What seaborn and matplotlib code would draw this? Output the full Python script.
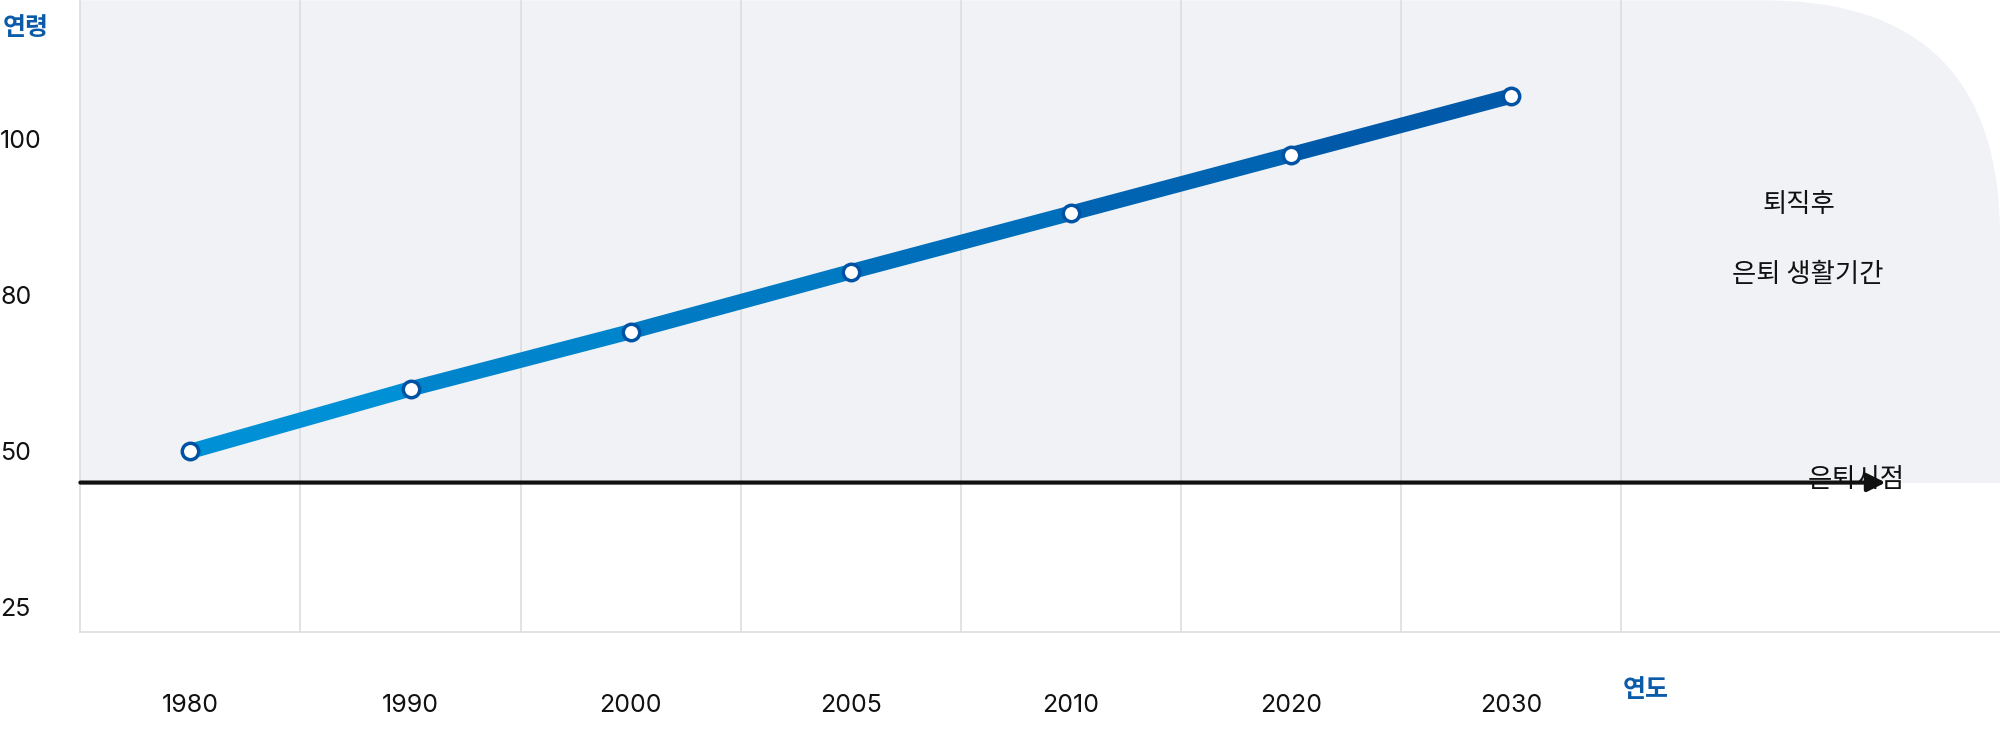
import numpy as np
import pandas as pd
import seaborn as sns
import matplotlib
matplotlib.use("Agg")
import matplotlib.pyplot as plt
from matplotlib.patches import FancyBboxPatch
from matplotlib.transforms import IdentityTransform

years = ["1980", "1990", "2000", "2005", "2010", "2020", "2030"]
ages = [50, 62, 73, 83, 90.5, 98, 105.5]
ytick_labels = [25, 50, 80, 100]
retire_age = 45

sns.set_theme(style="white")
plt.rcParams['font.family'] = ['Inter', 'Noto Sans CJK KR', 'DejaVu Sans']

def to_pos(v):
    t = np.array(ytick_labels, float)
    v = np.asarray(v, float)
    p = np.interp(v, t, np.arange(len(t)))
    hi = v > t[-1]
    p = np.where(hi, len(t) - 1 + (v - t[-1]) / (t[-1] - t[-2]), p)
    lo = v < t[1]
    p = np.where(lo, (v - t[0]) / (t[1] - t[0]), p)
    return p

S = 2000 / 1568
fig = plt.figure(figsize=(20, 7.44), dpi=100)
ax = fig.add_axes([63 / 1568, 88 / 583, 1 - 63 / 1568, 495 / 583])
ax.set_xlim(-0.5, 8.22)
ax.set_ylim(-0.155, 3.89)
ax.set_facecolor("white")

retire_pos = float(to_pos(retire_age))
rp_disp = 476 - 122.5 * retire_pos
x0, x1 = 63 * S, 1568 * S
y0, y1 = (583 - rp_disp) * S, 583 * S
r = 185 * S
patch = FancyBboxPatch((x0 - r, y0 - r), x1 - x0, y1 - y0, boxstyle=f"round,pad={r}",
                       transform=IdentityTransform(), facecolor="#F0F2F6", edgecolor="none", zorder=0.2)
ax.add_patch(patch)
patch.set_clip_path(ax.patch)
ax.axhspan(-0.155, retire_pos, color="white", zorder=0.5, lw=0)

for g in np.arange(0.5, 7.0, 1):
    ax.axvline(g, color="#DDDDDD", lw=1.2, zorder=1)

ax.annotate("", xy=(7.7, retire_pos), xytext=(-0.5, retire_pos),
            arrowprops=dict(arrowstyle="-|>,head_length=0.9,head_width=0.45", color="#111111", lw=3,
                            shrinkA=0, shrinkB=0),
            zorder=3)

df = pd.DataFrame({"x": np.arange(len(years)), "y": to_pos(ages)})
c0 = np.array(matplotlib.colors.to_rgb("#0096DA"))
c1 = np.array(matplotlib.colors.to_rgb("#0053A4"))
n = len(df) - 1
for i in range(n):
    col = c0 + (c1 - c0) * (i + 0.5) / n
    ax.plot(df.x[i:i + 2], df.y[i:i + 2], color=col, lw=11, solid_capstyle="round", zorder=4)
sns.scatterplot(data=df, x="x", y="y", s=140, color="white", edgecolor="#0053A4", linewidth=2.5, zorder=5, ax=ax)

ax.set_xticks(range(len(years)))
ax.set_xticklabels(years, fontsize=18, color="#111111")
ax.set_yticks(range(len(ytick_labels)))
ax.set_yticklabels([str(v) for v in ytick_labels], fontsize=18, color="#111111")
ax.tick_params(axis="x", length=0, pad=45)
ax.tick_params(axis="y", length=0, pad=0)
for lab in ax.get_yticklabels():
    lab.set_horizontalalignment("left")
    lab.set_x(-63 / 1505)
ax.set_xlabel(""); ax.set_ylabel("")
for s in ["top", "right"]:
    ax.spines[s].set_visible(False)
for s in ["left", "bottom"]:
    ax.spines[s].set_color("#DDDDDD")
    ax.spines[s].set_linewidth(1.2)

kr = ['Noto Sans CJK KR', 'DejaVu Sans']
fig.text(2 / 1568, 1 - 22 / 583, "연령", fontsize=18, color="#0B5BA8", fontweight="bold", va="center", family=kr)
fig.text(1290 / 1568, 1 - 541 / 583, "연도", fontsize=18, color="#0B5BA8", fontweight="bold", va="center", ha="center", family=kr)
fig.text(1410 / 1568, 1 - 160 / 583, "퇴직후", fontsize=19, color="#111111", va="center", ha="center", family=kr, fontweight="medium")
fig.text(1417 / 1568, 1 - 215 / 583, "은퇴 생활기간", fontsize=19, color="#111111", va="center", ha="center", family=kr, fontweight="medium")
fig.text(1455 / 1568, 1 - 376 / 583, "은퇴시점", fontsize=19, color="#111111", va="center", ha="center", family=kr, fontweight="medium")

fig.savefig("out.png", dpi=100)
